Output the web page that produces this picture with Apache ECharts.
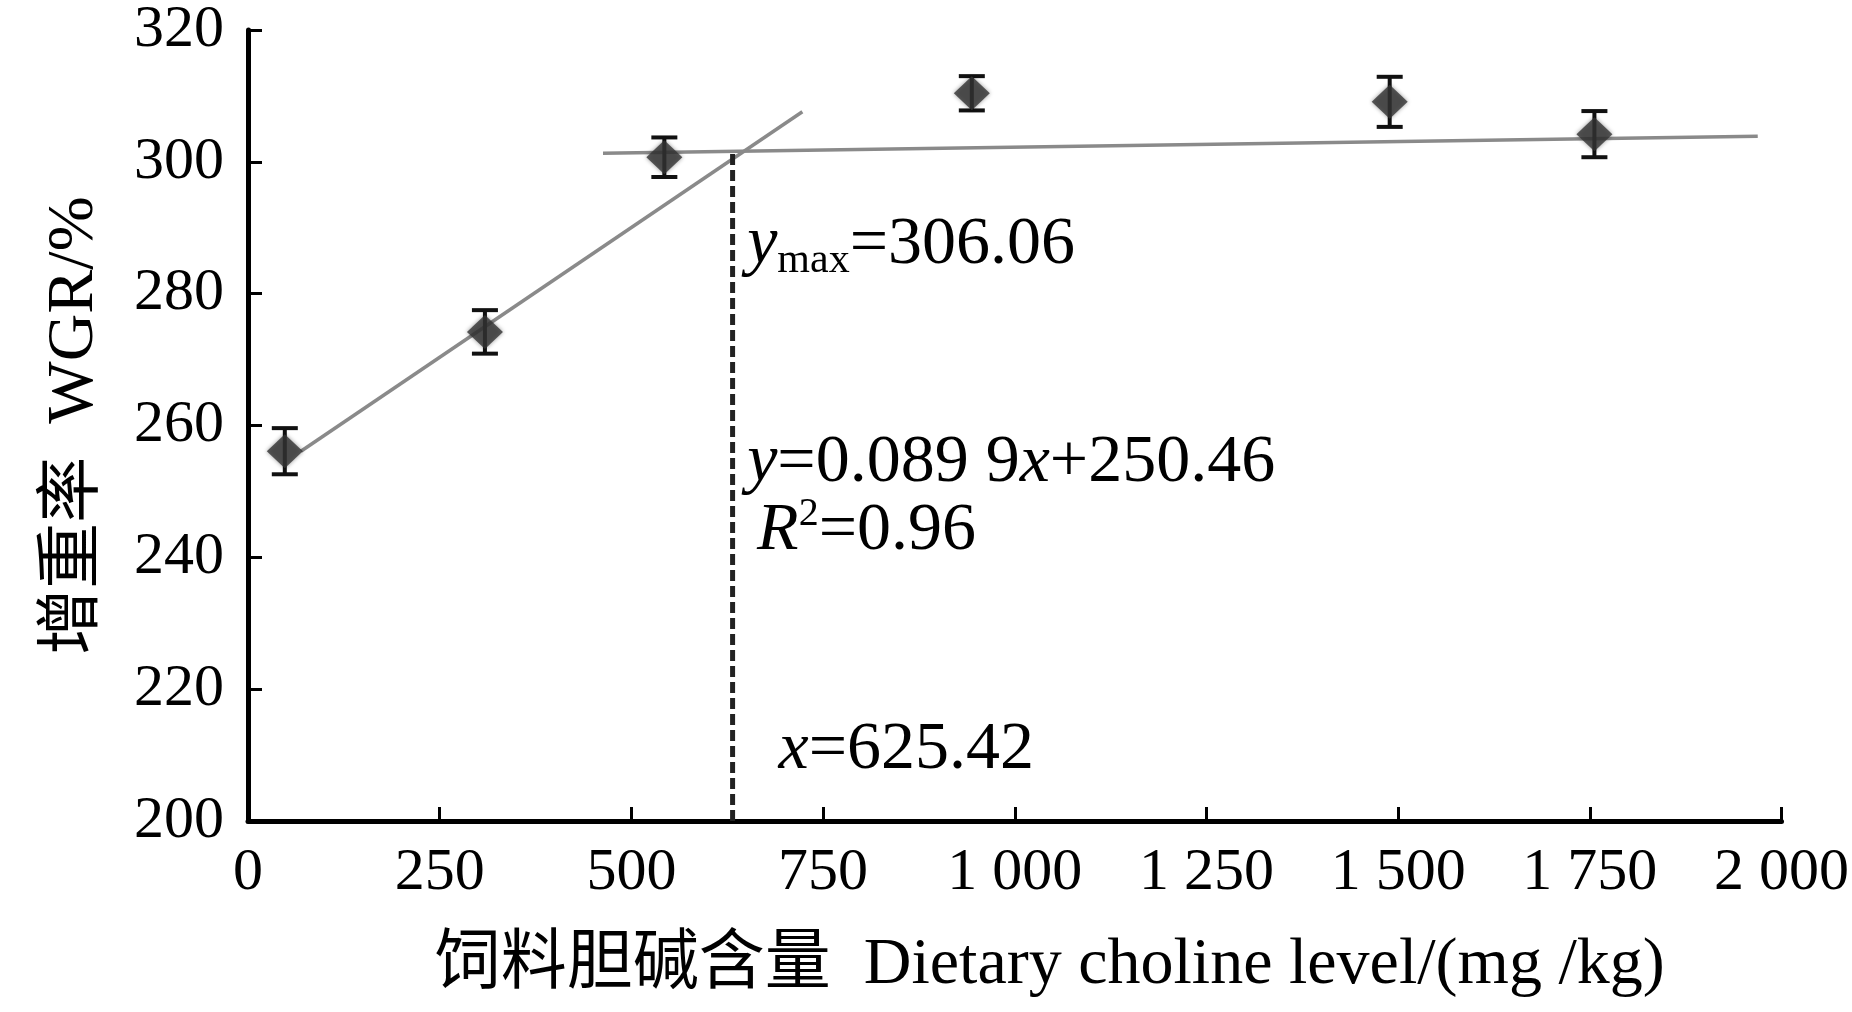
<!DOCTYPE html>
<html>
<head>
<meta charset="utf-8">
<script src="https://cdn.jsdelivr.net/npm/echarts@6/dist/echarts.min.js"></script>
<style>
html,body{margin:0;padding:0;background:#fff;}
#chart{width:1852px;height:1012px;}
</style>
</head>
<body>
<div id="chart"></div>
<script>
// ---- data ----
const choline = [48, 309, 543, 944, 1489, 1756];          // mg/kg
const wgr     = [256.1, 274.2, 300.7, 310.4, 309.1, 304.2]; // %
const sd      = [3.5, 3.3, 3.0, 2.6, 3.8, 3.5];
const xTickValues = [0, 250, 500, 750, 1000, 1250, 1500, 1750, 2000];
const yTickValues = [200, 220, 240, 260, 280, 300, 320];
const riseLine    = [[69, 256.1], [723, 307.6]];
const plateauLine = [[463, 301.3], [1969, 303.9]];
const breakLine   = [[632, 200], [632, 301.4]];
const annoYmax = [651, 287.3];
const annoEq   = [651, 254.3];
const annoR2   = [664, 244.0];
const annoX    = [692, 210.7];

const SERIF = "'Liberation Serif','Times New Roman','Noto Sans CJK SC',serif";
const NAMEFONT = "'Liberation Serif','Noto Sans CJK SC',serif";

const chart = echarts.init(document.getElementById('chart'));

function fmtThousands(v){
  const s = String(v);
  return s.length > 3 ? s.slice(0, s.length-3) + ' ' + s.slice(-3) : s;
}

const axisCommon = {
  axisLine: {show: true, lineStyle: {color: '#000', width: 5}},
  axisTick: {show: true, inside: true, length: 14, lineStyle: {color: '#000', width: 3}},
  splitLine: {show: false}
};

const option = {
  backgroundColor: '#fff',
  animation: false,
  grid: {left: 248, right: 57, top: 25, bottom: 191, containLabel: false},
  xAxis: Object.assign({}, axisCommon, {
    type: 'value', min: xTickValues[0], max: xTickValues[xTickValues.length-1], interval: 250,
    axisLabel: {color: '#000', fontSize: 60, fontFamily: SERIF, margin: 22, formatter: fmtThousands},
    name: '饲料胆碱含量  Dietary choline level/(mg /kg)',
    nameLocation: 'middle', nameGap: 112,
    nameTextStyle: {color: '#000', fontSize: 66, fontFamily: NAMEFONT, padding: [0, 0, 0, 70]}
  }),
  yAxis: Object.assign({}, axisCommon, {
    type: 'value', min: yTickValues[0], max: yTickValues[yTickValues.length-1], interval: 20,
    axisLabel: {color: '#000', fontSize: 60, fontFamily: SERIF, margin: 24},
    name: '增重率  WGR/%',
    nameLocation: 'middle', nameGap: 140, nameRotate: 90,
    nameTextStyle: {color: '#000', fontSize: 66, fontFamily: NAMEFONT}
  }),
  series: [
    {
      type: 'line', data: riseLine, symbol: 'none', z: 2,
      lineStyle: {color: '#8a8a8a', width: 3.5}
    },
    {
      type: 'line', data: plateauLine, symbol: 'none', z: 2,
      lineStyle: {color: '#8a8a8a', width: 3.5}
    },
    {
      type: 'line', data: breakLine, symbol: 'none', z: 2,
      lineStyle: {color: '#222', width: 5, type: [11, 5]}
    },
    {
      type: 'custom', z: 3,
      data: choline.map((c, i) => [c, wgr[i] - sd[i], wgr[i] + sd[i]]),
      renderItem: function(params, api){
        const x = api.value(0);
        const top = api.coord([x, api.value(2)]);
        const bot = api.coord([x, api.value(1)]);
        const w = 13;
        const st = {stroke: '#111', lineWidth: 4};
        return {type: 'group', children: [
          {type: 'line', shape: {x1: top[0], y1: top[1], x2: bot[0], y2: bot[1]}, style: st},
          {type: 'line', shape: {x1: top[0]-w, y1: top[1], x2: top[0]+w, y2: top[1]}, style: st},
          {type: 'line', shape: {x1: bot[0]-w, y1: bot[1], x2: bot[0]+w, y2: bot[1]}, style: st}
        ]};
      }
    },
    {
      type: 'scatter', z: 4,
      data: choline.map((c, i) => [c, wgr[i]]),
      symbol: 'diamond', symbolSize: [36, 34],
      itemStyle: {color: '#353535', shadowBlur: 4, shadowColor: 'rgba(0,0,0,0.5)'}
    }
  ]
};
chart.setOption(option);

function px(p){ return chart.convertToPixel({gridIndex: 0}, p); }
const base = {fontSize: 68, fontFamily: SERIF, fill: '#000', verticalAlign: 'middle', align: 'left'};
function textEl(pos, text, rich){
  const p = px(pos);
  return {type: 'text', x: p[0], y: p[1], z: 10,
    style: Object.assign({}, base, {text: text, rich: rich})};
}
const richCommon = {
  i: {fontSize: 68, fontFamily: SERIF, fontStyle: 'italic', color: '#000', lineHeight: 72},
  n: {fontSize: 68, fontFamily: SERIF, color: '#000', lineHeight: 72},
  sub: {fontSize: 42, fontFamily: SERIF, color: '#000', verticalAlign: 'bottom', lineHeight: 72},
  sup: {fontSize: 40, fontFamily: SERIF, color: '#000', verticalAlign: 'top', lineHeight: 72}
};
chart.setOption({
  graphic: [
    textEl(annoYmax, '{i|y}{sub|max}{n|=306.06}', richCommon),
    textEl(annoEq, '{i|y}{n|=0.089 9}{i|x}{n|+250.46}', richCommon),
    textEl(annoR2, '{i|R}{sup|2}{n|=0.96}', richCommon),
    textEl(annoX, '{i|x}{n|=625.42}', richCommon)
  ]
});
</script>
</body>
</html>
